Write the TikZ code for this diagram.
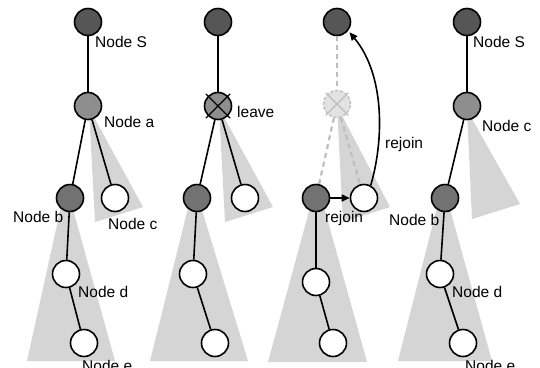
\documentclass[tikz,border=0pt]{standalone}
\usepackage{fontspec}
\setmainfont{Liberation Sans}
\usetikzlibrary{arrows.meta,calc}
\definecolor{rootgray}{HTML}{565656}
\definecolor{midgray}{HTML}{8E8E8E}
\definecolor{subgray}{HTML}{727272}
\definecolor{conegray}{HTML}{D5D5D5}
\definecolor{fadegray}{HTML}{BDBDBD}
\definecolor{fadefill}{HTML}{E2E2E2}
\tikzset{
  vtx/.style={circle, draw=black, line width=1.6pt, minimum size=27pt, inner sep=0pt},
  rootv/.style={vtx, fill=rootgray},
  innerv/.style={vtx, fill=midgray},
  subv/.style={vtx, fill=subgray},
  leafv/.style={vtx, fill=white},
  ghostv/.style={circle, draw=fadegray, fill=fadefill, dash pattern=on 3pt off 2pt, line width=1.3pt, minimum size=27pt, inner sep=0pt},
  cone/.style={fill=conegray, draw=none},
  link/.style={line width=1.6pt},
  ghostlink/.style={line width=2.2pt, draw=fadegray, dash pattern=on 5pt off 4pt},
  lbl/.style={anchor=base west, inner sep=0pt, font=\fontsize{15.5}{17}\selectfont},
  tip/.style={-{Triangle[length=8pt,width=7pt]}}
}
\begin{document}
\begin{tikzpicture}[x=1pt,y=-1pt]
\useasboundingbox (0,0) rectangle (540,367);
\fill[white] (0,0) rectangle (540,367);

% subtree cones
\fill[cone] (66,184) -- (27,361) -- (115,361) -- cycle;
\fill[cone] (89,108) -- (95,222) -- (143,207) -- cycle;
\fill[cone] (194,184) -- (150,361) -- (248,361) -- cycle;
\fill[cone] (219,108) -- (225,222) -- (273,207) -- cycle;
\fill[cone] (317,182) -- (268,362) -- (367,362) -- cycle;
\fill[cone] (337,106) -- (343,222) -- (390,207) -- cycle;
\fill[cone] (443,184) -- (398,361) -- (492,361) -- cycle;
\fill[cone] (467,110) -- (472,219) -- (520,204) -- cycle;

% first tree
\node[rootv]  (S1) at (88,22) {};
\node[innerv] (a1) at (88,106) {};
\node[subv]   (b1) at (70,198) {};
\node[leafv]  (c1) at (115,198) {};
\node[leafv]  (d1) at (66,274) {};
\node[leafv]  (e1) at (84,343) {};
\draw[link] (S1) -- (a1);
\draw[link] (a1) -- (b1);
\draw[link] (a1) -- (c1);
\draw[link] (b1) -- (d1);
\draw[link] (d1) -- (e1);
\node[lbl] (tS1) at (95,47) {Node S};
\node[lbl] (ta1) at (104,127) {Node a};
\node[lbl] (tb1) at (13,222) {Node b};
\node[lbl] (tc1) at (108,229) {Node c};
\node[lbl] (td1) at (78,297) {Node d};
\node[lbl] (te1) at (82,371) {Node e};

% second tree: node a leaves
\node[rootv]  (S2) at (218,22) {};
\node[innerv] (a2) at (218,106) {};
\node[subv]   (b2) at (197,198) {};
\node[leafv]  (c2) at (245,198) {};
\node[leafv]  (d2) at (193,274) {};
\node[leafv]  (e2) at (215,343) {};
\draw[link] (S2) -- (a2);
\draw[link] (a2) -- (b2);
\draw[link] (a2) -- (c2);
\draw[link] (b2) -- (d2);
\draw[link] (d2) -- (e2);
\draw[line width=1.4pt] ($(a2)+(135:17)$) -- ($(a2)+(-45:17)$);
\draw[line width=1.4pt] ($(a2)+(45:17)$) -- ($(a2)+(-135:17)$);
\node[lbl] (tl2) at (237,117) {leave};

% third tree: children rejoin
\node[rootv]  (S3) at (337,22) {};
\node[ghostv] (a3) at (337,104) {};
\node[subv]   (b3) at (316,198) {};
\node[leafv]  (c3) at (364,198) {};
\node[leafv]  (d3) at (316,282) {};
\node[leafv]  (e3) at (333,343) {};
\draw[ghostlink] (S3) -- (a3);
\draw[ghostlink] (a3) -- (b3);
\draw[ghostlink] (a3) -- (c3);
\draw[line width=1.1pt, draw=fadegray] ($(a3)+(135:16)$) -- ($(a3)+(-45:16)$);
\draw[line width=1.1pt, draw=fadegray] ($(a3)+(45:16)$) -- ($(a3)+(-135:16)$);
\draw[link] (b3) -- (d3);
\draw[link] (d3) -- (e3);
\draw[link, tip] (b3) -- (c3);
\draw[link, tip, shorten >=2pt] (c3.62) .. controls (384,140) and (385,75) .. (S3.-38);
\node[lbl] (tr3) at (385,148) {rejoin};
\node[lbl] (tq3) at (325,222) {rejoin};

% fourth tree: after rejoining
\node[rootv]  (S4) at (467,22) {};
\node[innerv] (a4) at (467,106) {};
\node[subv]   (b4) at (445,198) {};
\node[leafv]  (d4) at (440,274) {};
\node[leafv]  (e4) at (463,343) {};
\draw[link] (S4) -- (a4);
\draw[link] (a4) -- (b4);
\draw[link] (b4) -- (d4);
\draw[link] (d4) -- (e4);
\node[lbl] (tS4) at (473,47) {Node S};
\node[lbl] (tc4) at (482,131) {Node c};
\node[lbl] (tb4) at (389,225) {Node b};
\node[lbl] (td4) at (452,297) {Node d};
\node[lbl] (te4) at (465,371) {Node e};
\end{tikzpicture}
\end{document}
